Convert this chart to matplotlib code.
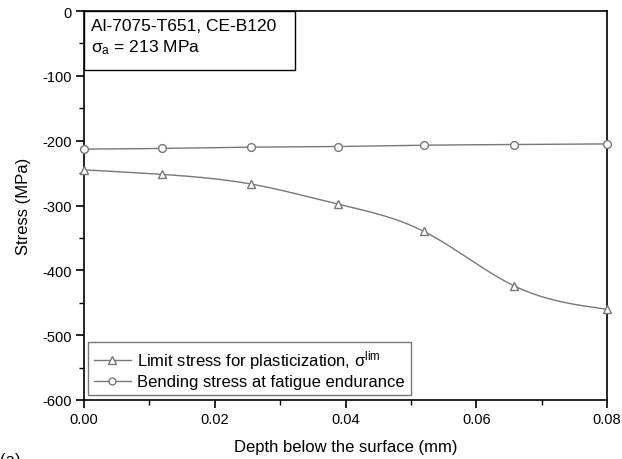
import numpy as np
import matplotlib
matplotlib.use("Agg")
import matplotlib.pyplot as plt
from matplotlib.ticker import MultipleLocator
from matplotlib.patches import Rectangle

plt.rcParams['font.family'] = ['Liberation Sans', 'DejaVu Sans']
plt.rcParams['mathtext.fontset'] = 'custom'
plt.rcParams['mathtext.rm'] = 'Liberation Sans'
plt.rcParams['mathtext.it'] = 'Liberation Sans:italic'
plt.rcParams['mathtext.bf'] = 'Liberation Sans:bold'

depth = [0.0, 0.0119, 0.0256, 0.0389, 0.052, 0.0658, 0.08]
limit_stress = [-245, -252, -267, -298, -340, -424, -460]
bending_stress = [-213, -212, -210, -209, -207, -206, -205]

xticks = [0.00, 0.02, 0.04, 0.06, 0.08]
yticks = [0, -100, -200, -300, -400, -500, -600]


def natural_spline(x, y, n=300):
    x = np.asarray(x, float); y = np.asarray(y, float)
    k = len(x)
    h = np.diff(x)
    A = np.zeros((k, k)); b = np.zeros(k)
    A[0, 0] = A[-1, -1] = 1
    for i in range(1, k - 1):
        A[i, i - 1] = h[i - 1]
        A[i, i] = 2 * (h[i - 1] + h[i])
        A[i, i + 1] = h[i]
        b[i] = 6 * ((y[i + 1] - y[i]) / h[i] - (y[i] - y[i - 1]) / h[i - 1])
    M = np.linalg.solve(A, b)
    xs = np.linspace(x[0], x[-1], n)
    idx = np.clip(np.searchsorted(x, xs) - 1, 0, k - 2)
    x0, x1 = x[idx], x[idx + 1]
    hh = x1 - x0
    t0 = x1 - xs; t1 = xs - x0
    ys = (M[idx] * t0**3 / (6 * hh) + M[idx + 1] * t1**3 / (6 * hh)
          + (y[idx] / hh - M[idx] * hh / 6) * t0
          + (y[idx + 1] / hh - M[idx + 1] * hh / 6) * t1)
    return xs, ys


fig = plt.figure(figsize=(6.22, 4.60), dpi=100)
ax = fig.add_axes([84 / 622, 1 - 401 / 460, (607 - 84) / 622, (401 - 12) / 460])

gray = '#777777'
xs, ys = natural_spline(depth, limit_stress)
ax.plot(xs, ys, color=gray, lw=1.0, zorder=2)
ax.plot(depth, limit_stress, ls='none', marker='^', ms=6.2, mfc='white', mec=gray, mew=1.0,
        clip_on=False, zorder=3)
xs2, ys2 = natural_spline(depth, bending_stress)
ax.plot(xs2, ys2, color=gray, lw=1.0, zorder=2)
ax.plot(depth, bending_stress, ls='none', marker='o', ms=5.6, mfc='white', mec=gray, mew=1.0,
        clip_on=False, zorder=3)

# legend handles
h1, = ax.plot([], [], color=gray, lw=1.0, marker='^', ms=5.5, mfc='white', mec=gray)
h2, = ax.plot([], [], color=gray, lw=1.0, marker='o', ms=5, mfc='white', mec=gray)
leg = ax.legend([h1, h2], ['Limit stress for plasticization, $\\mathrm{\\sigma^{lim}}$',
                           'Bending stress at fatigue endurance'],
                loc='lower left', bbox_to_anchor=(0.008, 0.012), fontsize=12,
                frameon=True, fancybox=False, edgecolor='#555555', handlelength=2.2,
                handletextpad=0.4, borderpad=0.35, labelspacing=0.2, borderaxespad=0)
leg.get_frame().set_linewidth(1.0)

ax.set_xlim(0, 0.08)
ax.set_ylim(-600, 0)
ax.set_xticks(xticks)
ax.set_xticklabels([f'{v:.2f}' for v in xticks])
ax.set_yticks(yticks)
ax.set_yticklabels([f'{v}' for v in yticks])
ax.xaxis.set_minor_locator(MultipleLocator(0.01))
ax.yaxis.set_minor_locator(MultipleLocator(50))
ax.tick_params(which='major', direction='out', length=6, width=1.2, labelsize=10.5, pad=3)
ax.tick_params(which='minor', direction='out', length=3.5, width=1.0)
for s in ax.spines.values():
    s.set_linewidth(1.2)

ax.set_xlabel('Depth below the surface (mm)', fontsize=12, labelpad=9)
ax.set_ylabel('Stress (MPa)', fontsize=12, labelpad=8)

ax.add_patch(Rectangle((0, 1 - 0.152), 0.403, 0.152, transform=ax.transAxes,
                       fc='white', ec='black', lw=1.0, zorder=4))
ax.text(0.014, 0.982, 'Al-7075-T651, CE-B120\n$\\mathrm{\\sigma_a}$ = 213 MPa',
        transform=ax.transAxes, ha='left', va='top', fontsize=12.5, linespacing=1.3,
        zorder=5)

fig.text(0.0, 0.015, '(a)', ha='left', va='top', fontsize=12)

fig.savefig('out.png', dpi=100)
